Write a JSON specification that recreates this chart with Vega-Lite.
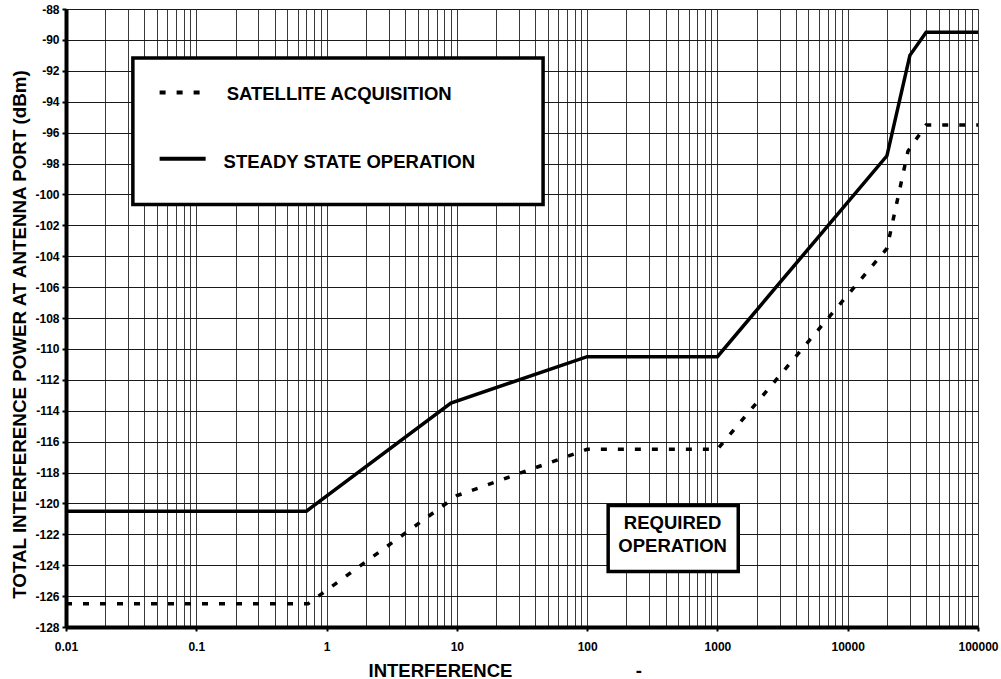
{
  "$schema": "https://vega.github.io/schema/vega-lite/v6.json",
  "width": 912,
  "height": 618,
  "autosize": "none",
  "padding": {"left": 66, "top": 9, "right": 23, "bottom": 52},
  "background": "white",
  "config": {
    "view": {"stroke": null},
    "font": "Liberation Sans",
    "axis": {"labelFont": "Liberation Sans", "titleFont": "Liberation Sans", "labelFontWeight": "bold", "titleFontWeight": "bold", "labelColor": "black", "titleColor": "black"}
  },
  "datasets": {
    "curves": [
      {"series": "steady", "x": 0.01, "y": -120.5},
      {"series": "steady", "x": 0.7, "y": -120.5},
      {"series": "steady", "x": 9, "y": -113.5},
      {"series": "steady", "x": 100, "y": -110.5},
      {"series": "steady", "x": 1000, "y": -110.5},
      {"series": "steady", "x": 20000, "y": -97.5},
      {"series": "steady", "x": 30000, "y": -91},
      {"series": "steady", "x": 40000, "y": -89.5},
      {"series": "steady", "x": 100000, "y": -89.5},
      {"series": "acq", "x": 0.01, "y": -126.5},
      {"series": "acq", "x": 0.72, "y": -126.5},
      {"series": "acq", "x": 10, "y": -119.5},
      {"series": "acq", "x": 100, "y": -116.5},
      {"series": "acq", "x": 1000, "y": -116.5},
      {"series": "acq", "x": 20000, "y": -103.5},
      {"series": "acq", "x": 29000, "y": -97.2},
      {"series": "acq", "x": 40000, "y": -95.5},
      {"series": "acq", "x": 100000, "y": -95.5}
    ],
    "boxes": [
      {"box": "legend", "x": 0.0326, "x2": 45.9, "y": -91.17, "y2": -100.66},
      {"box": "required", "x": 145, "x2": 1445, "y": -120.14, "y2": -124.41}
    ],
    "samples": [
      {"series": "acq", "x": 0.0523, "x2": 0.108, "y": -93.4},
      {"series": "steady", "x": 0.0523, "x2": 0.118, "y": -97.7}
    ],
    "legendText": [
      {"label": "SATELLITE ACQUISITION", "x": 0.171, "y": -93.89},
      {"label": "STEADY STATE OPERATION", "x": 0.162, "y": -98.27}
    ],
    "reqText": [
      {"label": "REQUIRED", "x": 453, "y": -121.66},
      {"label": "OPERATION", "x": 453, "y": -123.13}
    ]
  },
  "encoding": {
    "x": {
      "field": "x", "type": "quantitative",
      "scale": {"type": "log", "domain": [0.01, 100000], "nice": false},
      "axis": {
        "values": [0.01,0.02,0.03,0.04,0.05,0.06,0.07,0.08,0.09,0.1,0.2,0.3,0.4,0.5,0.6,0.7,0.8,0.9,1,2,3,4,5,6,7,8,9,10,20,30,40,50,60,70,80,90,100,200,300,400,500,600,700,800,900,1000,2000,3000,4000,5000,6000,7000,8000,9000,10000,20000,30000,40000,50000,60000,70000,80000,90000,100000],
        "format": "~g",
        "labelExpr": "indexof([0.01,0.1,1,10,100,1000,10000,100000], datum.value) >= 0 ? datum.label : ''",
        "labelOverlap": false,
        "labelFlush": false,
        "labelFontSize": 12,
        "labelPadding": 10,
        "tickSize": 4,
        "tickWidth": 2,
        "tickColor": "black",
        "tickOpacity": {"condition": {"test": "indexof([0.01,0.1,1,10,100,1000,10000,100000], datum.value) >= 0", "value": 1}, "value": 0},
        "grid": true,
        "gridColor": "#3a3a3a",
        "gridWidth": 1,
        "gridOpacity": 1,
        "domainColor": "black",
        "domainWidth": 4,
        "title": "INTERFERENCE\u00a0\u00a0\u00a0\u00a0\u00a0\u00a0\u00a0\u00a0\u00a0\u00a0\u00a0\u00a0\u00a0\u00a0\u00a0\u00a0\u00a0\u00a0\u00a0\u00a0\u00a0\u00a0\u00a0\u00a0-",
        "titleFontSize": 18.5,
        "titleX": 302,
        "titleY": 49,
        "titleAlign": "left",
        "titleBaseline": "alphabetic"
      }
    },
    "y": {
      "field": "y", "type": "quantitative",
      "scale": {"domain": [-128, -88], "nice": false, "zero": false},
      "axis": {
        "values": [-128,-126,-124,-122,-120,-118,-116,-114,-112,-110,-108,-106,-104,-102,-100,-98,-96,-94,-92,-90,-88],
        "labelExpr": "'' + datum.value",
        "labelFontSize": 12,
        "labelPadding": 3,
        "tickSize": 4,
        "tickWidth": 2,
        "tickColor": "black",
        "grid": true,
        "gridColor": "#1a1a1a",
        "gridWidth": 1,
        "gridOpacity": 1,
        "domainColor": "black",
        "domainWidth": 4,
        "title": "TOTAL INTERFERENCE POWER AT ANTENNA PORT (dBm)",
        "titleFontSize": 18.8,
        "titleX": -41,
        "titleY": 325,
        "titleAlign": "center",
        "titleBaseline": "alphabetic"
      }
    }
  },
  "layer": [
    {
      "data": {"name": "curves"},
      "transform": [{"filter": "datum.series === 'steady'"}],
      "mark": {"type": "line", "color": "black", "strokeWidth": 3.5, "clip": true},
      "encoding": {}
    },
    {
      "data": {"name": "curves"},
      "transform": [{"filter": "datum.series === 'acq'"}],
      "mark": {"type": "line", "color": "black", "strokeWidth": 3.5, "strokeDash": [6, 11], "strokeCap": "butt", "clip": true},
      "encoding": {}
    },
    {
      "data": {"name": "boxes"},
      "mark": {"type": "rect", "fill": "white", "stroke": "black", "strokeWidth": 3.5},
      "encoding": {"x2": {"field": "x2"}, "y2": {"field": "y2"}}
    },
    {
      "data": {"name": "samples"},
      "transform": [{"filter": "datum.series === 'acq'"}],
      "mark": {"type": "rule", "color": "black", "strokeWidth": 4, "strokeDash": [6, 11], "strokeCap": "butt"},
      "encoding": {"x2": {"field": "x2"}}
    },
    {
      "data": {"name": "samples"},
      "transform": [{"filter": "datum.series === 'steady'"}],
      "mark": {"type": "rule", "color": "black", "strokeWidth": 4, "strokeCap": "butt"},
      "encoding": {"x2": {"field": "x2"}}
    },
    {
      "data": {"name": "legendText"},
      "mark": {"type": "text", "align": "left", "baseline": "alphabetic", "font": "Liberation Sans", "fontWeight": "bold", "fontSize": 18.5, "color": "black"},
      "encoding": {"text": {"field": "label"}}
    },
    {
      "data": {"name": "reqText"},
      "mark": {"type": "text", "align": "center", "baseline": "alphabetic", "font": "Liberation Sans", "fontWeight": "bold", "fontSize": 18.5, "color": "black"},
      "encoding": {"text": {"field": "label"}}
    }
  ]
}
